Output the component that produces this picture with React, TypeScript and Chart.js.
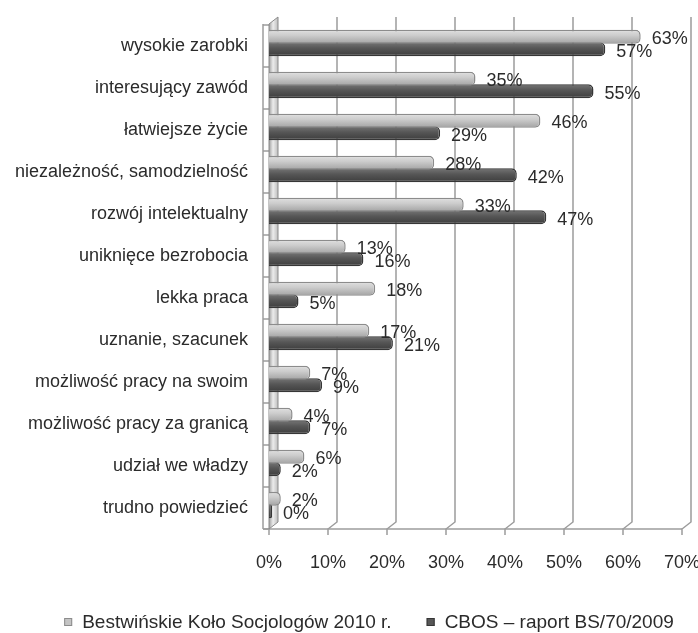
import React, { useEffect, useRef } from 'react';
import { Chart, registerables } from 'chart.js';

Chart.register(...registerables);

const categories = [
  'wysokie zarobki',
  'interesujący zawód',
  'łatwiejsze życie',
  'niezależność, samodzielność',
  'rozwój intelektualny',
  'uniknięce bezrobocia',
  'lekka praca',
  'uznanie, szacunek',
  'możliwość pracy na swoim',
  'możliwość pracy za granicą',
  'udział we władzy',
  'trudno powiedzieć',
];
const seriesNames = ['Bestwińskie Koło Socjologów 2010 r.', 'CBOS – raport BS/70/2009'];
const bestwinskieValues = [63, 35, 46, 28, 33, 13, 18, 17, 7, 4, 6, 2];
const cbosValues = [57, 55, 29, 42, 47, 16, 5, 21, 9, 7, 2, 0];
const xTickValues = [0, 10, 20, 30, 40, 50, 60, 70];

const FONT = '"Liberation Sans", Arial, sans-serif';
const TEXT = '#2b2b2b';
const GRID = '#9c9c9c';
const DX = 9;
const DY = -7;
const CAT_PCT = 0.6;
const BAR_PCT = 1.1;

const seriesFill = ['#c4c4c4', '#575757'];
const seriesBorder = ['#8c8c8c', '#363636'];
const seriesStops = [
  ['#dedede', '#cccccc', '#a6a6a6'],
  ['#727272', '#575757', '#3e3e3e'],
];

function barGradient(di: number) {
  return (c: any) => {
    const chart = c.chart;
    const y = chart.scales && chart.scales.y;
    if (!y || c.dataIndex === undefined || !chart.chartArea) return seriesFill[di];
    const step = Math.abs(y.getPixelForValue(1) - y.getPixelForValue(0));
    const w = (step * CAT_PCT) / 2;
    const center = y.getPixelForValue(c.dataIndex) + (di === 0 ? -w / 2 : w / 2);
    const g = chart.ctx.createLinearGradient(0, center - w / 2, 0, center + w / 2);
    const s = seriesStops[di];
    g.addColorStop(0, s[0]);
    g.addColorStop(0.4, s[1]);
    g.addColorStop(1, s[2]);
    return g;
  };
}

const framePlugin = {
  id: 'frame3d',
  beforeDatasetsDraw(chart: any) {
    const { ctx, chartArea: ca, scales } = chart;
    const x = scales.x;
    const y = scales.y;
    const floorY = ca.bottom + 3;
    const topY = ca.top - 5;
    const L = x.getPixelForValue(0);
    ctx.save();
    ctx.strokeStyle = GRID;
    ctx.lineWidth = 1.5;
    xTickValues.forEach((v) => {
      const px = x.getPixelForValue(v);
      ctx.beginPath();
      ctx.moveTo(px, floorY + 6);
      ctx.lineTo(px, floorY);
      if (v !== 0) {
        ctx.lineTo(px + DX, floorY + DY);
        ctx.lineTo(px + DX, topY);
      }
      ctx.stroke();
    });
    ctx.beginPath();
    ctx.moveTo(L - 6, floorY);
    ctx.lineTo(x.getPixelForValue(70), floorY);
    ctx.stroke();
    const step = Math.abs(y.getPixelForValue(1) - y.getPixelForValue(0));
    ctx.beginPath();
    ctx.moveTo(L - 6, topY - DY);
    ctx.lineTo(L - 6, floorY);
    ctx.stroke();
    for (let i = 0; i <= categories.length; i++) {
      const py = y.getPixelForValue(i) - step / 2 + 3;
      ctx.beginPath();
      ctx.moveTo(L - 6, py);
      ctx.lineTo(L, py);
      ctx.stroke();
    }
    const g = ctx.createLinearGradient(L, 0, L + DX, 0);
    g.addColorStop(0, '#a0a0a0');
    g.addColorStop(0.45, '#ececec');
    g.addColorStop(1, '#bdbdbd');
    ctx.fillStyle = g;
    ctx.beginPath();
    ctx.moveTo(L, topY - DY);
    ctx.lineTo(L + DX, topY);
    ctx.lineTo(L + DX, floorY + DY);
    ctx.lineTo(L, floorY);
    ctx.closePath();
    ctx.fill();
    ctx.strokeStyle = '#8a8a8a';
    ctx.lineWidth = 1;
    ctx.stroke();
    ctx.restore();
  },
};

const labelPlugin = {
  id: 'valueLabels',
  afterDatasetsDraw(chart: any) {
    const { ctx } = chart;
    ctx.save();
    ctx.font = '18px ' + FONT;
    ctx.fillStyle = TEXT;
    ctx.textAlign = 'left';
    ctx.textBaseline = 'middle';
    chart.data.datasets.forEach((ds: any, di: number) => {
      const meta = chart.getDatasetMeta(di);
      meta.data.forEach((el: any, i: number) => {
        ctx.fillText(ds.data[i] + '%', el.x + 11, el.y + (di === 0 ? 2 : 3));
      });
    });
    ctx.restore();
  },
};

const legendPlugin = {
  id: 'bottomLegend',
  afterDraw(chart: any) {
    const { ctx } = chart;
    ctx.save();
    ctx.font = '19px ' + FONT;
    ctx.textBaseline = 'middle';
    ctx.textAlign = 'left';
    const box = 8;
    const gap = 10;
    const itemGap = 35;
    const items = chart.data.datasets.map((d: any, di: number) => ({
      text: d.label,
      fill: seriesFill[di],
      stroke: seriesBorder[di],
      w: box + gap + ctx.measureText(d.label).width,
    }));
    const total = items.reduce((s: number, it: any) => s + it.w, 0) + itemGap * (items.length - 1);
    let cx = 369 - total / 2;
    const cy = 622;
    items.forEach((it: any) => {
      ctx.fillStyle = it.fill;
      ctx.fillRect(cx, cy - box / 2, box, box);
      ctx.strokeStyle = it.stroke;
      ctx.lineWidth = 1;
      ctx.strokeRect(cx + 0.5, cy - box / 2 + 0.5, box - 1, box - 1);
      ctx.fillStyle = TEXT;
      ctx.fillText(it.text, cx + box + gap, cy + 1);
      cx += it.w + itemGap;
    });
    ctx.restore();
  },
};

export default function App() {
  const ref = useRef<HTMLCanvasElement | null>(null);
  useEffect(() => {
    if (!ref.current) return;
    const chart = new Chart(ref.current, {
      type: 'bar',
      data: {
        labels: categories,
        datasets: [
          {
            label: seriesNames[0],
            data: bestwinskieValues,
            backgroundColor: barGradient(0),
            borderColor: seriesBorder[0],
            borderWidth: 1.5,
            borderRadius: 5,
            borderSkipped: 'start',
            categoryPercentage: CAT_PCT,
            barPercentage: BAR_PCT,
          },
          {
            label: seriesNames[1],
            data: cbosValues,
            backgroundColor: barGradient(1),
            borderColor: seriesBorder[1],
            borderWidth: 1.5,
            borderRadius: 5,
            borderSkipped: 'start',
            categoryPercentage: CAT_PCT,
            barPercentage: BAR_PCT,
            minBarLength: 3,
          },
        ],
      },
      options: {
        indexAxis: 'y',
        responsive: false,
        animation: false,
        maintainAspectRatio: false,
        layout: { padding: { top: 22, right: 16, bottom: 0, left: 0 } },
        plugins: {
          legend: { display: false },
          tooltip: { enabled: false },
        },
        scales: {
          x: {
            min: 0,
            max: 70,
            afterFit: (s: any) => {
              s.height = 107;
              s.paddingLeft = 0;
              s.paddingRight = 0;
            },
            afterBuildTicks: (s: any) => {
              s.ticks = xTickValues.map((v) => ({ value: v }));
            },
            grid: { display: false, drawTicks: false },
            border: { display: false },
            ticks: {
              padding: 26,
              color: TEXT,
              font: { family: FONT, size: 18 },
              callback: (v: any) => v + '%',
            },
          },
          y: {
            afterFit: (s: any) => {
              s.width = 269;
              s.paddingTop = 0;
              s.paddingBottom = 0;
            },
            grid: { display: false, drawTicks: false },
            border: { display: false },
            ticks: {
              padding: 21,
              labelOffset: 3,
              color: TEXT,
              font: { family: FONT, size: 18 },
            },
          },
        },
      },
      plugins: [framePlugin, labelPlugin, legendPlugin],
    });
    return () => chart.destroy();
  }, []);
  return (
    <div style={{ position: 'absolute', left: 0, top: 0, width: 698, height: 633, background: '#fff' }}>
      <canvas ref={ref} width={698} height={633} style={{ display: 'block' }} />
    </div>
  );
}
